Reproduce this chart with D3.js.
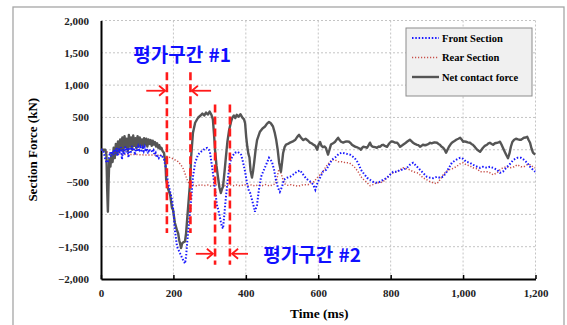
<!DOCTYPE html>
<html lang="ko">
<head>
  <meta charset="UTF-8">
  <title>Section Force</title>
  <style>
    body { margin: 0; background: #fff; }
    svg { display: block; }
    .tick text { font-family: "Liberation Serif", "Times New Roman", serif; font-weight: bold; font-size: 11px; fill: #222; }
  </style>
</head>
<body>
  <div id="chart"></div>

  <script src="https://d3js.org/d3.v7.min.js"></script>
  <script>
    // tick values
    const xTicks = [0, 200, 400, 600, 800, 1000, 1200];
    const yTicks = [-2000, -1500, -1000, -500, 0, 500, 1000, 1500, 2000];

    const seriesNames = ["Front Section", "Rear Section", "Net contact force"];

    // [time (ms), force (kN)]
    const frontSection = [
      [0,0],[5,0],[8,-50],[12,-150],[16,-200],[19,-180],[22,-120],[25,-40],[28,-100],[31,-20],[34,-80],[37,10],
      [40,-60],[43,30],[46,-100],[49,20],[52,-50],[55,40],[58,-150],[61,10],[64,-80],[67,50],[70,-40],[73,30],
      [76,-120],[79,40],[82,-60],[85,60],[88,-20],[91,30],[94,-80],[97,40],[100,-30],[103,50],[106,0],[109,40],
      [112,-40],[115,30],[118,-20],[121,40],[124,-30],[127,20],[130,-60],[133,10],[136,-20],[139,-10],[142,-40],
      [145,-10],[148,-80],[151,-50],[154,-120],[157,-90],[160,-130],[163,-110],[166,-80],[169,-100],[174,-150],
      [180,-300],[185,-510],[191,-650],[196,-774],[201,-1000],[204,-1240],[210,-1500],[218,-1600],[226,-1700],
      [232,-1760],[235,-1650],[238,-1440],[243,-1130],[249,-774],[254,-418],[260,-200],[268,-77],[276,-31],
      [282,-10],[287,20],[293,30],[298,0],[301,-40],[304,-155],[309,-356],[315,-620],[320,-850],[326,-975],
      [331,-1115],[334,-1190],[337,-1220],[340,-1040],[345,-730],[351,-418],[356,-200],[362,-108],[370,-46],
      [378,-31],[387,-77],[392,-185],[398,-340],[403,-510],[409,-650],[412,-670],[417,-774],[423,-900],[425,-960],
      [431,-850],[436,-620],[442,-418],[450,-310],[456,-232],[464,-124],[472,-185],[478,-310],[483,-465],
      [489,-590],[494,-650],[500,-573],[505,-465],[514,-433],[522,-418],[530,-387],[541,-340],[550,-320],
      [558,-380],[566,-440],[572,-470],[580,-500],[586,-540],[592,-620],[598,-510],[605,-433],[613,-340],
      [622,-310],[630,-232],[638,-155],[649,-108],[657,-62],[665,-46],[676,-60],[688,-77],[700,-124],[710,-201],
      [718,-310],[724,-356],[735,-433],[743,-465],[751,-495],[762,-510],[771,-495],[779,-465],[790,-433],
      [798,-387],[807,-340],[818,-340],[826,-310],[834,-310],[845,-280],[853,-232],[862,-201],[873,-263],
      [881,-310],[889,-356],[900,-418],[909,-433],[917,-440],[928,-418],[936,-433],[945,-418],[953,-356],
      [961,-280],[969,-201],[981,-155],[992,-124],[1000,-140],[1008,-185],[1019,-201],[1027,-232],[1039,-263],
      [1047,-280],[1055,-263],[1066,-280],[1074,-263],[1083,-280],[1094,-310],[1102,-356],[1110,-340],
      [1119,-280],[1130,-217],[1139,-155],[1150,-124],[1160,-124],[1168,-155],[1177,-201],[1185,-263],
      [1193,-310],[1199,-340]
    ];

    const rearSection = [
      [0,0],[10,-20],[20,-40],[30,-55],[45,-65],[60,-70],[80,-75],[100,-75],[120,-80],[140,-80],[160,-85],
      [175,-90],[185,-108],[199,-140],[213,-185],[220,-230],[226,-280],[231,-350],[235,-418],[240,-495],
      [246,-540],[255,-545],[265,-560],[275,-540],[285,-555],[295,-545],[305,-565],[315,-540],[325,-555],
      [335,-545],[345,-560],[355,-540],[365,-555],[375,-545],[385,-560],[395,-540],[405,-555],[415,-545],
      [425,-560],[435,-545],[445,-555],[455,-540],[465,-560],[475,-545],[483,-520],[487,-420],[490,-330],
      [494,-300],[498,-380],[503,-470],[508,-530],[515,-550],[525,-540],[535,-555],[545,-565],[555,-545],
      [565,-540],[572,-540],[580,-510],[588,-495],[597,-433],[605,-387],[613,-340],[621,-263],[630,-201],
      [638,-155],[646,-155],[655,-185],[665,-185],[675,-201],[685,-201],[693,-232],[702,-280],[710,-340],
      [718,-418],[726,-465],[735,-510],[743,-557],[751,-540],[762,-510],[771,-510],[779,-495],[790,-433],
      [798,-387],[807,-356],[818,-340],[826,-310],[834,-280],[845,-294],[853,-310],[862,-340],[873,-356],
      [881,-387],[889,-433],[900,-465],[909,-495],[917,-510],[928,-525],[936,-465],[945,-387],[953,-340],
      [961,-310],[970,-294],[981,-263],[992,-217],[1000,-201],[1008,-232],[1019,-248],[1027,-280],[1039,-294],
      [1047,-340],[1055,-340],[1066,-340],[1074,-356],[1083,-387],[1094,-356],[1102,-310],[1110,-280],
      [1119,-263],[1130,-280],[1141,-263],[1150,-232],[1160,-263],[1168,-263],[1177,-232],[1185,-232],
      [1193,-263],[1199,-280]
    ];

    const netContactForce = [
      [0,0],[12,0],[15,-80],[17,-600],[19,-960],[21,-500],[23,-150],[26,-260],[29,-60],[32,-190],[35,30],
      [38,-130],[41,90],[44,-70],[47,130],[50,-30],[53,160],[56,10],[59,190],[62,-20],[65,210],[68,40],
      [71,170],[74,-20],[77,230],[80,50],[83,190],[86,0],[89,220],[92,60],[95,180],[98,20],[101,210],[104,50],
      [107,190],[110,70],[113,160],[116,30],[119,180],[122,80],[125,170],[128,50],[131,160],[134,90],[137,150],
      [140,60],[143,140],[146,80],[149,120],[152,50],[155,100],[158,30],[161,70],[164,10],[167,30],[170,-20],
      [174,-50],[178,-200],[180,-465],[185,-600],[191,-700],[196,-900],[199,-930],[204,-1130],[210,-1250],
      [213,-1290],[216,-1400],[218,-1440],[221,-1520],[224,-1450],[228,-1430],[232,-1420],[235,-1290],
      [240,-930],[246,-510],[249,-108],[254,263],[260,418],[268,495],[275,530],[280,560],[285,530],[290,575],
      [295,545],[300,590],[305,540],[309,470],[312,250],[315,0],[319,-250],[323,-420],[327,-580],[331,-670],
      [334,-610],[337,-570],[341,-350],[345,-110],[349,120],[354,310],[359,430],[363,500],[367,530],[371,490],
      [375,540],[380,510],[385,550],[390,500],[395,470],[398,410],[401,200],[404,50],[407,-60],[410,-120],
      [413,-320],[417,-430],[420,-330],[423,-200],[427,0],[431,150],[439,280],[446,330],[453,360],[458,400],
      [464,430],[469,410],[475,360],[480,260],[484,150],[488,0],[492,-200],[497,-340],[500,-200],[503,-50],
      [507,40],[511,80],[516,90],[522,110],[530,130],[536,150],[542,200],[547,230],[552,190],[558,150],
      [565,170],[572,140],[577,110],[582,100],[586,80],[592,60],[597,0],[601,80],[605,120],[609,60],[613,40],
      [617,50],[621,30],[627,-75],[631,0],[635,80],[641,100],[646,120],[650,150],[655,185],[659,150],[663,124],
      [669,110],[674,124],[679,130],[685,124],[690,100],[693,77],[698,60],[702,46],[706,40],[710,31],[714,20],
      [718,0],[721,30],[724,46],[730,40],[735,31],[740,80],[743,110],[747,60],[751,46],[757,40],[762,31],
      [767,50],[771,46],[775,70],[779,77],[784,60],[790,46],[794,80],[798,110],[803,130],[807,124],[812,110],
      [818,108],[822,80],[826,46],[830,60],[834,77],[840,100],[845,124],[849,140],[853,155],[858,130],[862,108],
      [867,90],[873,77],[877,70],[881,46],[885,60],[889,77],[895,70],[900,77],[905,90],[909,108],[913,100],
      [917,108],[922,115],[928,108],[932,90],[936,77],[940,50],[945,31],[949,0],[953,-46],[957,0],[961,46],
      [965,80],[969,108],[975,130],[981,155],[987,170],[992,186],[996,160],[1000,124],[1004,130],[1008,124],
      [1013,115],[1019,108],[1023,90],[1027,77],[1033,40],[1039,0],[1043,-15],[1047,-31],[1051,0],[1055,31],
      [1060,60],[1066,77],[1070,100],[1074,108],[1079,90],[1083,77],[1088,100],[1094,108],[1098,115],
      [1102,124],[1106,80],[1110,31],[1115,-30],[1119,-77],[1124,-130],[1128,-60],[1132,46],[1136,120],
      [1141,155],[1146,170],[1152,160],[1156,155],[1160,155],[1164,170],[1168,186],[1173,190],[1177,201],
      [1181,150],[1185,108],[1189,20],[1193,-46],[1199,-77]
    ];

    // evaluation windows: [time, top, bottom]
    const windowLines = [[182, 1200, -1290], [247, 1200, -1290], [315, 700, -1780], [356, 700, -1780]];
    // arrows: [from time, to time, force level]
    const windowArrows = [[125, 177, 913], [304, 251, 913], [262, 309, -1610], [406, 362, -1610]];
    const windowLabels = [["평가구간 #1", 224, 1470], ["평가구간 #2", 583, -1625]];

    const W = 567, H = 325;
    const margin = { top: 20.5, right: 31.5, bottom: 46, left: 101 };

    const svg = d3.select("#chart")
      .append("svg")
      .attr("width", W)
      .attr("height", H);

    // outer frame
    svg.append("rect")
      .attr("x", 13).attr("y", 7)
      .attr("width", 551).attr("height", 330)
      .attr("fill", "none")
      .attr("stroke", "#a6a6a6")
      .attr("stroke-width", 1.3);

    const x = d3.scaleLinear().domain([0, 1200]).range([margin.left, W - margin.right]);
    const y = d3.scaleLinear().domain([-2000, 2000]).range([H - margin.bottom, margin.top]);

    // grid
    const grid = svg.append("g")
      .attr("stroke", "#c4c4c4")
      .attr("stroke-width", 1)
      .attr("stroke-dasharray", "2,2");
    grid.selectAll(".gh").data(yTicks.filter(d => d > -2000)).enter().append("line")
      .attr("x1", x(0)).attr("x2", x(1200))
      .attr("y1", d => y(d)).attr("y2", d => y(d));
    grid.selectAll(".gv").data(xTicks.filter(d => d > 0)).enter().append("line")
      .attr("x1", d => x(d)).attr("x2", d => x(d))
      .attr("y1", y(2000)).attr("y2", y(-2000));

    // axes
    const fmt = d3.format(",");
    const xAxis = svg.append("g")
      .attr("transform", `translate(0,${y(-2000)})`)
      .call(d3.axisBottom(x).tickValues(xTicks).tickFormat(fmt).tickSizeInner(-4).tickSizeOuter(0).tickPadding(10));
    const yAxis = svg.append("g")
      .attr("transform", `translate(${x(0)},0)`)
      .call(d3.axisLeft(y).tickValues(yTicks).tickFormat(fmt).tickSize(0).tickPadding(12));
    [xAxis, yAxis].forEach(a => {
      a.select(".domain").attr("stroke", "#000").attr("stroke-width", 2);
      a.selectAll(".tick line").attr("stroke", "#000").attr("stroke-width", 1.5);
    });

    // series
    const line = d3.line().x(d => x(d[0])).y(d => y(d[1]));

    svg.append("path").datum(rearSection)
      .attr("d", line).attr("fill", "none")
      .attr("stroke", "#c8504a").attr("stroke-width", 1.5)
      .attr("stroke-dasharray", "1.2,1.8");

    svg.append("path").datum(netContactForce)
      .attr("d", line).attr("fill", "none")
      .attr("stroke", "#555").attr("stroke-width", 2.4)
      .attr("stroke-linejoin", "round");

    svg.append("path").datum(frontSection)
      .attr("d", line).attr("fill", "none")
      .attr("stroke", "#1a1aff").attr("stroke-width", 2)
      .attr("stroke-dasharray", "1.5,1.8");

    // evaluation window marks
    svg.selectAll(".wl").data(windowLines).enter().append("line")
      .attr("x1", d => x(d[0])).attr("x2", d => x(d[0]))
      .attr("y1", d => y(d[1])).attr("y2", d => y(d[2]))
      .attr("stroke", "#ff1a1a").attr("stroke-width", 2.6)
      .attr("stroke-dasharray", "8,4");

    const arrows = svg.selectAll(".wa").data(windowArrows).enter().append("g")
      .attr("stroke", "#ff1a1a").attr("stroke-width", 1.8).attr("fill", "none");
    arrows.append("line")
      .attr("x1", d => x(d[0])).attr("x2", d => x(d[1]))
      .attr("y1", d => y(d[2])).attr("y2", d => y(d[2]));
    arrows.append("path")
      .attr("d", d => {
        const tx = x(d[1]), ty = y(d[2]), s = d[1] > d[0] ? 1 : -1;
        return `M${tx - s * 6},${ty - 5}L${tx},${ty}L${tx - s * 6},${ty + 5}`;
      });

    svg.selectAll(".wt").data(windowLabels).enter().append("text")
      .attr("x", d => x(d[1])).attr("y", d => y(d[2]))
      .attr("text-anchor", "middle").attr("dy", "0.36em")
      .attr("font-family", "'Noto Sans CJK KR', sans-serif")
      .attr("font-weight", "bold").attr("font-size", 19)
      .attr("fill", "#1010ff")
      .text(d => d[0]);

    // axis titles
    svg.append("text")
      .attr("transform", `translate(37,${(y(2000) + y(-2000)) / 2}) rotate(-90)`)
      .attr("text-anchor", "middle")
      .attr("font-family", "'Liberation Serif', serif").attr("font-weight", "bold").attr("font-size", 13)
      .text("Section Force (kN)");
    svg.append("text")
      .attr("x", (x(0) + x(1200)) / 2 + 1).attr("y", 318)
      .attr("text-anchor", "middle")
      .attr("font-family", "'Liberation Serif', serif").attr("font-weight", "bold").attr("font-size", 13.5)
      .text("Time (ms)");

    // legend
    const legend = svg.append("g").attr("transform", "translate(406,28)");
    legend.append("rect")
      .attr("width", 126).attr("height", 68)
      .attr("fill", "#f0f0f0").attr("stroke", "#8c8c8c").attr("stroke-width", 1);
    const legendStyles = [
      { color: "#1a1aff", width: 2, dash: "1.5,1.8" },
      { color: "#c8504a", width: 1.5, dash: "1.2,1.8" },
      { color: "#555", width: 2.4, dash: null }
    ];
    const items = legend.selectAll(".li").data(seriesNames).enter().append("g")
      .attr("transform", (d, i) => `translate(0,${10 + i * 19.5})`);
    items.append("line")
      .attr("x1", 6).attr("x2", 33)
      .attr("stroke", (d, i) => legendStyles[i].color)
      .attr("stroke-width", (d, i) => legendStyles[i].width)
      .attr("stroke-dasharray", (d, i) => legendStyles[i].dash);
    items.append("text")
      .attr("x", 36).attr("dy", "0.35em")
      .attr("font-family", "'Liberation Serif', serif").attr("font-weight", "bold").attr("font-size", 10.5)
      .text(d => d);
  </script>
</body>
</html>
